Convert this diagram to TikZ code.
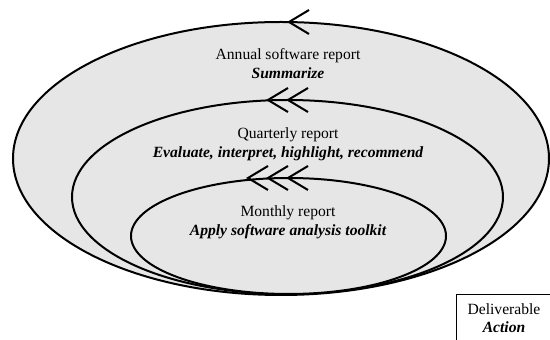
\documentclass[tikz,border=0pt]{standalone}
\usepackage{fontspec}
\setmainfont{Liberation Serif}
\usetikzlibrary{shapes.geometric,calc}
\definecolor{ringfill}{HTML}{E6E6E6}
\tikzset{
  ring/.style={ellipse, draw=black, line width=2pt, fill=ringfill, inner sep=0pt, outer sep=0pt},
  chev/.style={draw=black, line width=2pt},
  lbl/.style={anchor=base, font=\fontsize{15.6}{19}\selectfont, inner sep=0pt},
  act/.style={lbl, font=\fontsize{15.6}{19}\selectfont\bfseries\itshape},
  legendbox/.style={draw=black, line width=0.8pt, fill=white, anchor=north west, inner sep=0pt}
}
% one chevron whose tip sits on a ring, pointing left
\newcommand{\chevron}[1]{\draw[chev] (#1) ++(20,12) -- (#1) -- ++(20,-12);}
\begin{document}
\begin{tikzpicture}[x=1pt,y=1pt]
  \useasboundingbox (0,0) rectangle (550,340);
  \clip (0,0) rectangle (550,340);

  % nested reporting cycles
  \node[ring, minimum width=536, minimum height=273] (annualring) at (281,181.5) {};
  \node[ring, minimum width=431, minimum height=194] (quarterring) at (287.5,143) {};
  \node[ring, minimum width=315, minimum height=116] (monthring) at (288.5,104) {};

  % direction marks: one, two and three chevrons
  \coordinate (a1) at ($(annualring.north)+(8,0)$);
  \chevron{a1}
  \coordinate (q1) at ($(quarterring.north)+(-19.5,0)$);
  \coordinate (q2) at ($(quarterring.north)+(0.5,0)$);
  \chevron{q1}\chevron{q2}
  \coordinate (m1) at ($(monthring.north)+(-40.5,0)$);
  \coordinate (m2) at ($(monthring.north)+(-20.5,0)$);
  \coordinate (m3) at ($(monthring.north)+(-0.5,0)$);
  \chevron{m1}\chevron{m2}\chevron{m3}

  % labels
  \node[lbl] (annualtitle) at (288,280) {Annual software report};
  \node[act] (annualaction) at (288,261) {Summarize};
  \node[lbl] (quartertitle) at (288,201) {Quarterly report};
  \node[act] (quarteraction) at (288,182.5) {Evaluate, interpret, highlight, recommend};
  \node[lbl] (monthtitle) at (288,123) {Monthly report};
  \node[act] (monthaction) at (288,104.5) {Apply software analysis toolkit};

  % legend
  \node[legendbox, minimum width=94, minimum height=80] (legend) at (456,46) {};
  \node[lbl] (legendtitle) at (504,25) {Deliverable};
  \node[act] (legendaction) at (504,7) {Action};
\end{tikzpicture}
\end{document}
